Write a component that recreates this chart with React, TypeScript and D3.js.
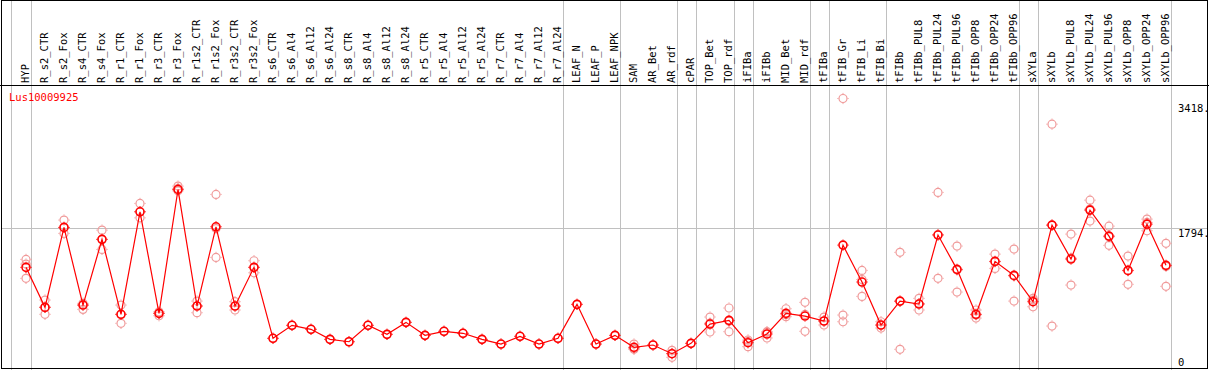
import React, { useEffect, useRef } from "react";
import * as d3 from "d3";

const categories = [
  "HYP", "R_s2_CTR", "R_s2_Fox", "R_s4_CTR", "R_s4_Fox", "R_r1_CTR", "R_r1_Fox",
  "R_r3_CTR", "R_r3_Fox", "R_r1s2_CTR", "R_r1s2_Fox", "R_r3s2_CTR", "R_r3s2_Fox",
  "R_s6_CTR", "R_s6_Al4", "R_s6_Al12", "R_s6_Al24", "R_s8_CTR", "R_s8_Al4",
  "R_s8_Al12", "R_s8_Al24", "R_r5_CTR", "R_r5_Al4", "R_r5_Al12", "R_r5_Al24",
  "R_r7_CTR", "R_r7_Al4", "R_r7_Al12", "R_r7_Al24", "LEAF_N", "LEAF_P", "LEAF_NPK",
  "SAM", "AR_Bet", "AR_rdf", "cPAR", "TOP_Bet", "TOP_rdf", "iFIBa", "iFIBb",
  "MID_Bet", "MID_rdf", "tFIBa", "tFIB_Gr", "tFIB_Li", "tFIB_Bi", "tFIBb",
  "tFIBb_PUL8", "tFIBb_PUL24", "tFIBb_PUL96", "tFIBb_OPP8", "tFIBb_OPP24",
  "tFIBb_OPP96", "sXYLa", "sXYLb", "sXYLb_PUL8", "sXYLb_PUL24", "sXYLb_PUL96",
  "sXYLb_OPP8", "sXYLb_OPP24", "sXYLb_OPP96",
];

// mean expression per sample
const means = [
  1300, 798, 1801, 827, 1651, 711, 1997, 723, 2277, 815, 1809, 815, 1300,
  410, 573, 523, 397, 367, 573, 460, 610, 447, 498, 473, 397, 338, 435, 338, 410,
  836, 338, 447, 297, 326, 217, 347, 589, 635, 355, 464, 723, 689, 627,
  1579, 1116, 577, 877, 840, 1705, 1275, 711, 1375, 1199, 869,
  1830, 1404, 2018, 1692, 1262, 1842, 1325,
];

// individual replicates
const reps = [
  [1400, 1341, 1162], [890, 802, 711], [1893, 1801, 1726], [849, 827, 773],
  [1767, 1651, 1525], [827, 711, 598], [2102, 1997, 1921], [743, 723, 693],
  [2319, 2290, 2260], [877, 815, 731], [2215, 1787, 1425], [869, 815, 765],
  [1383, 1300, 1232],
  [410], [573], [523], [397], [367], [573], [460], [610], [447], [498], [473],
  [397], [338], [435], [338], [410], [836], [338], [447],
  [338, 272, 281], [326], [259, 172, 220], [347], [677, 489, 601], [790, 493, 624],
  [389, 305, 371], [493, 414, 485], [781, 681, 707], [861, 498, 709], [677, 577, 627],
  [3418, 702, 618], [1262, 936, 1148], [618, 539, 574], [1488, 272, 872],
  [911, 765, 844], [2240, 1162, 1712], [1567, 990, 1266], [765, 664, 704],
  [1466, 1287, 1370], [1529, 877, 1191], [911, 806, 890],
  [3096, 564, 1830], [1717, 1078, 1416], [2143, 1880, 2031], [1817, 1576, 1683],
  [1441, 1087, 1257], [1905, 1759, 1864], [1601, 1062, 1312],
];

const yTicks = [0, 1794, 3418];
const groupEnds = [
  "HYP", "R_r7_Al24", "LEAF_NPK", "AR_rdf", "cPAR", "TOP_rdf", "iFIBa",
  "MID_rdf", "tFIBa", "tFIB_Bi", "tFIBb_OPP96", "sXYLa", "sXYLb_OPP96",
];
const geneName = "Lus10009925";

const W = 1209;
const H = 370;
const headerY = 85;
const font = "'DejaVu Sans Mono', monospace";

function marker(g, x, y, color, sw) {
  g.append("circle")
    .attr("cx", x).attr("cy", y).attr("r", 4)
    .attr("fill", "none").attr("stroke", color).attr("stroke-width", sw);
  [[0, -1], [0, 1], [-1, 0], [1, 0]].forEach(([dx, dy]) => {
    g.append("line")
      .attr("x1", x + dx * 4.6).attr("y1", y + dy * 4.6)
      .attr("x2", x + dx * 5.6).attr("y2", y + dy * 5.6)
      .attr("stroke", color).attr("stroke-width", 1);
  });
}

export default function App() {
  const ref = useRef(null);

  useEffect(() => {
    const svg = d3.select(ref.current);
    svg.selectAll("*").remove();

    const x = d3.scalePoint().domain(categories).range([26, 1166]);
    const y = d3.scaleLinear().domain([0, 3418]).range([371, 98.5]);
    const step = x.step();

    svg.append("rect").attr("width", W).attr("height", H).attr("fill", "#fff");

    // group separators
    const seps = [x(categories[0]) - step + 4, ...groupEnds.map((c) => x(c) + 4.5)];
    svg.selectAll("line.sep")
      .data(seps)
      .enter()
      .append("line")
      .attr("x1", (d) => Math.round(d) + 0.5)
      .attr("x2", (d) => Math.round(d) + 0.5)
      .attr("y1", 0)
      .attr("y2", H)
      .attr("stroke", "#c0c0c0");

    // horizontal grid
    const grid = yTicks.filter((t) => t > 0 && t < 3418);
    svg.selectAll("line.grid")
      .data(grid)
      .enter()
      .append("line")
      .attr("x1", 1).attr("x2", W - 1)
      .attr("y1", (d) => Math.round(y(d)) + 0.5)
      .attr("y2", (d) => Math.round(y(d)) + 0.5)
      .attr("stroke", "#c0c0c0");

    // y labels
    svg.selectAll("text.ylab")
      .data(yTicks)
      .enter()
      .append("text")
      .attr("x", 1178)
      .attr("y", (d) => Math.min(Math.max(y(d) + 9, 112), 366))
      .attr("font-family", font)
      .attr("font-size", 10.5)
      .attr("fill", "#000")
      .text((d) => (d === 0 ? "0" : d + "."));

    // header labels
    svg.selectAll("text.cat")
      .data(categories)
      .enter()
      .append("text")
      .attr("transform", (d) => `translate(${x(d) - 0.5},83) rotate(-90)`)
      .attr("dy", "0.35em")
      .attr("font-family", font)
      .attr("font-size", 10.5)
      .attr("fill", "#000")
      .text((d) => d);

    svg.append("line")
      .attr("x1", 0).attr("x2", W)
      .attr("y1", headerY + 0.5).attr("y2", headerY + 0.5)
      .attr("stroke", "#000");

    svg.append("text")
      .attr("x", 9).attr("y", 101)
      .attr("font-family", font)
      .attr("font-size", 10.5)
      .attr("fill", "#ff0000")
      .text(geneName);

    // replicates
    const repG = svg.append("g");
    reps.forEach((vals, i) => {
      vals.forEach((v) => marker(repG, x(categories[i]), y(v), "#f09a9a", 1.2));
    });

    // mean line
    const line = d3.line().x((d, i) => x(categories[i])).y((d) => y(d));
    svg.append("path")
      .datum(means)
      .attr("d", line)
      .attr("fill", "none")
      .attr("stroke", "#ff0000")
      .attr("stroke-width", 1.2);

    const meanG = svg.append("g");
    means.forEach((v, i) => marker(meanG, x(categories[i]), y(v), "#ff0000", 1.6));

    // frame
    svg.append("rect")
      .attr("x", 1.5).attr("y", 0.5)
      .attr("width", 1206).attr("height", 368)
      .attr("fill", "none").attr("stroke", "#000");
  }, []);

  return (
    <svg
      ref={ref}
      width={W}
      height={H}
      style={{ position: "absolute", left: 0, top: 0, display: "block" }}
    />
  );
}
